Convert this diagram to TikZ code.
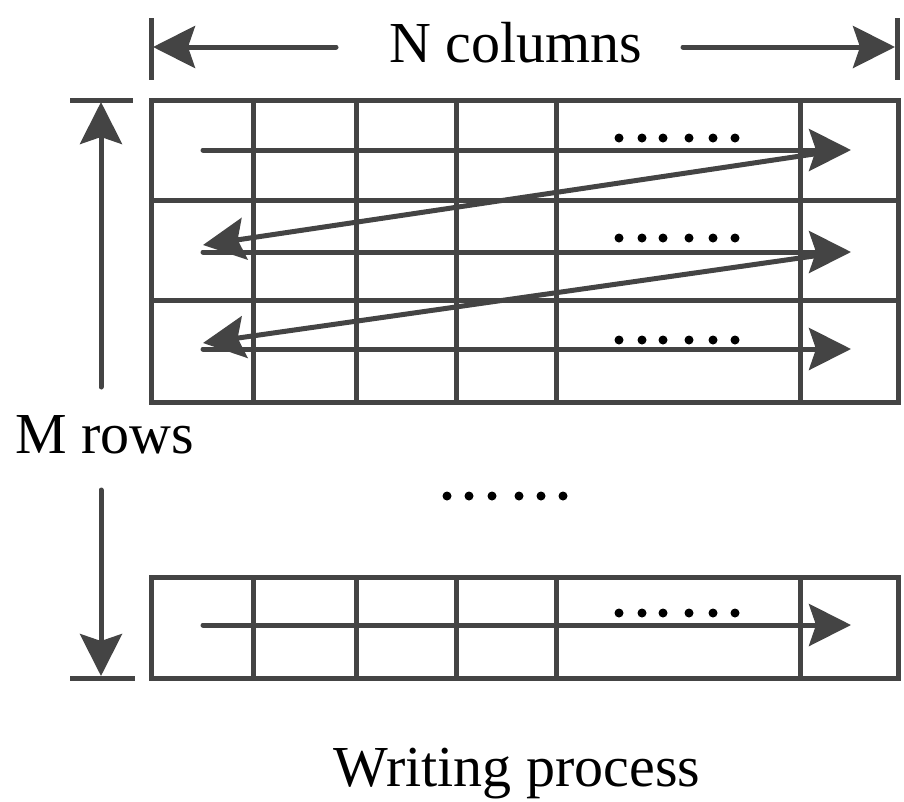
\documentclass[tikz,border=0pt]{standalone}
\usepackage{fontspec}
\setmainfont{Liberation Serif}
\usetikzlibrary{arrows.meta}

\definecolor{gridgray}{HTML}{444444}

\tikzset{
	gridline/.style = { draw = gridgray, line width = 5pt },
	flow/.style = { draw = gridgray, line width = 5pt, line cap = round,
		-{Stealth[length = 42pt, width = 42pt, inset = 7pt]} },
	dimtick/.style = { draw = gridgray, line width = 5pt },
	bigtext/.style = { inner sep = 0pt, font = \fontsize{58}{60}\selectfont }
}

\begin{document}
\begin{tikzpicture}[x = 1pt, y = -1pt]
		\useasboundingbox ( 0, 0 ) rectangle ( 904, 801 );

		% размер по столбцам
		\draw [dimtick] ( 151, 18 ) -- ( 151, 80 );
		\draw [dimtick] ( 897, 18 ) -- ( 897, 80 );
		\node [bigtext, anchor = base] (ncols) at ( 516, 62 ) {N columns};
		\coordinate (nleft)  at ( 153, 47 );
		\coordinate (nright) at ( 895, 47 );
		\coordinate (nla) at ( 336, 47 );
		\coordinate (nra) at ( 683, 47 );
		\draw [flow] (nla) -- (nleft);
		\draw [flow] (nra) -- (nright);

		% размер по строкам
		\draw [dimtick] ( 70, 100 ) -- ( 133, 100 );
		\draw [dimtick] ( 70, 678 ) -- ( 135, 678 );
		\node [bigtext, anchor = base west] (mrows) at ( 15, 453 ) {M rows};
		\coordinate (mtop) at ( 101, 102 );
		\coordinate (mbot) at ( 101, 676 );
		\coordinate (mua) at ( 101, 387 );
		\coordinate (mda) at ( 101, 490 );
		\draw [flow] (mua) -- (mtop);
		\draw [flow] (mda) -- (mbot);

		% верхний блок строк
		\draw [gridline] ( 151, 100 ) rectangle ( 898, 402 );
		\draw [gridline] ( 151, 200 ) -- ( 898, 200 );
		\draw [gridline] ( 151, 300 ) -- ( 898, 300 );
		\foreach \cx in { 253, 356, 456, 556, 800 }
			\draw [gridline] ( \cx, 100 ) -- ( \cx, 402 );

		% нижняя строка
		\draw [gridline] ( 151, 577 ) rectangle ( 898, 678 );
		\foreach \cx in { 253, 356, 456, 556, 800 }
			\draw [gridline] ( \cx, 577 ) -- ( \cx, 678 );

		% порядок записи
		\coordinate (r1s) at ( 203, 150 );
		\coordinate (r1e) at ( 851, 150 );
		\coordinate (d1s) at ( 814, 154 );
		\coordinate (d1e) at ( 203, 245 );
		\coordinate (r2s) at ( 203, 252 );
		\coordinate (r2e) at ( 851, 252 );
		\coordinate (d2s) at ( 814, 256 );
		\coordinate (d2e) at ( 203, 343 );
		\coordinate (r3s) at ( 203, 349 );
		\coordinate (r3e) at ( 851, 349 );
		\coordinate (rms) at ( 203, 625 );
		\coordinate (rme) at ( 851, 625 );
		\draw [flow] (r1s) -- (r1e);
		\draw [flow] (r2s) -- (r2e);
		\draw [flow] (r3s) -- (r3e);
		\draw [flow] (rms) -- (rme);
		\draw [flow] (d1s) -- (d1e);
		\draw [flow] (d2s) -- (d2e);

		% многоточия
		\foreach \ry in { 138, 238, 340, 613 }
			\foreach \dx in { 619, 642, 663, 689, 713, 735 }
				\fill ( \dx, \ry ) circle ( 4.5pt );
		\foreach \dx in { 447, 469, 492, 519, 541, 563 }
			\fill ( \dx, 496 ) circle ( 4.5pt );

		% подпись
		\node [bigtext, anchor = base] (caption) at ( 517, 786 ) {Writing process};
	\end{tikzpicture}
\end{document}
